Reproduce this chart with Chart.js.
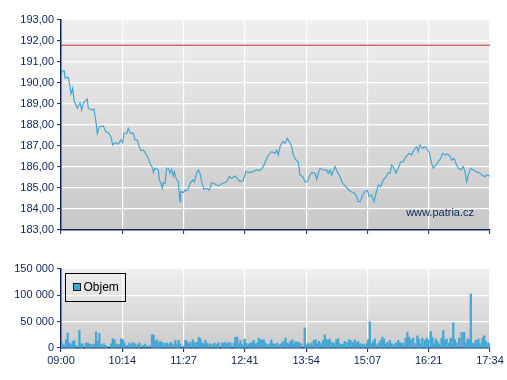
<!DOCTYPE html>
<html>
<head>
<meta charset="utf-8">
<script src="https://cdn.jsdelivr.net/npm/chart.js@4.4.1/dist/chart.umd.min.js"></script>
<style>
  html, body { margin: 0; padding: 0; background: #ffffff; }
  #wrap { position: relative; width: 507px; height: 380px; overflow: hidden; }
  #priceCanvas { position: absolute; left: 0; top: 0; }
  #volCanvas { position: absolute; left: 0; top: 250px; }
</style>
</head>
<body>
<div id="wrap">
  <canvas id="priceCanvas" width="507" height="240"></canvas>
  <canvas id="volCanvas" width="507" height="130"></canvas>
</div>
<script>
// ---- data (minutes since 09:00) ----
const sessionMinutes = 514;
const xTickLabels = ['09:00','10:14','11:27','12:41','13:54','15:07','16:21','17:34'];
const prevClose = 191.80;
const priceMin = 183, priceMax = 193;
const volumeTickValues = [0, 50000, 100000, 150000];
const volumeLabel = 'Objem';
const watermark = 'www.patria.cz';

const priceTimes = [0,1.6,4.0,4.8,8.7,10.8,12.0,14.0,15.6,19.5,
22.8,24.8,26.7,31.5,32.7,36.8,39.5,41.9,43.5,45.9,
50.7,53.9,56.7,59.9,61.9,64.7,68.7,71.5,73.9,75.5,
78.7,80.6,83.5,86.6,88.7,91.4,93.8,95.5,98.6,101.5,
104.6,107.5,109.9,110.6,112.6,116.6,117.8,119.5,121.4,122.6,
124.6,126.6,128.6,130.6,132.6,134.5,135.7,137.8,140.5,141.7,
142.6,143.4,146.5,148.6,150.6,152.5,154.6,157.8,159.7,162.6,
164.5,166.5,168.6,171.3,174.6,177.7,180.6,184.5,188.5,192.5,
198.5,201.6,204.5,208.5,211.2,214.5,218.4,221.6,225.6,230.4,
234.5,238.4,242.4,245.6,248.4,252.4,256.4,258.4,260.3,262.4,
265.6,268.4,271.1,273.5,276.4,278.3,281.6,284.3,286.3,289.6,
292.3,295.1,298.3,300.4,304.3,306.4,308.3,310.3,314.3,318.3,
320.2,322.3,324.3,328.3,331.0,334.3,337.5,341.5,344.2,347.1,
350.2,353.4,356.2,358.2,361.5,364.2,367.0,369.4,372.3,375.0,
377.4,380.2,383.0,386.1,389.4,392.1,394.2,396.2,399.0,401.4,
404.1,406.9,410.1,413.3,417.3,420.2,422.9,426.2,428.1,430.1,
433.4,436.1,438.1,441.3,444.1,446.1,449.3,452.0,454.9,457.3,
460.1,462.8,466.1,468.1,470.9,473.2,476.0,478.9,482.0,484.0,
486.1,488.0,490.9,494.0,497.2,501.2,504.0,508.0,510.0,514.0];

const priceValues = [190.27,190.57,190.57,190.24,190.27,189.83,189.48,189.75,189.19,188.80,
189.05,188.71,189.05,189.24,188.80,188.71,188.76,188.16,187.60,187.92,
187.95,187.68,187.63,187.44,187.05,187.16,187.10,187.29,187.16,187.60,
187.60,187.84,187.60,187.60,187.29,187.29,186.97,186.78,186.81,186.65,
186.41,186.10,185.94,185.73,185.94,185.86,185.38,185.25,184.98,185.25,
185.22,185.94,185.94,185.70,185.89,185.57,185.78,185.46,185.30,184.75,
184.35,184.83,184.78,184.90,184.87,184.98,185.22,185.38,185.30,185.70,
185.86,185.70,185.30,184.94,184.98,184.90,185.25,185.19,185.10,185.19,
185.30,185.54,185.46,185.57,185.46,185.30,185.38,185.78,185.73,185.78,
185.86,185.83,186.02,186.33,186.57,186.73,186.65,186.81,186.57,186.97,
187.21,187.13,187.37,187.21,186.97,186.57,186.33,186.25,185.62,185.54,
185.30,185.30,185.62,185.73,185.70,185.41,185.70,185.94,185.86,185.86,
185.70,185.86,185.62,186.02,185.78,185.54,185.22,185.06,184.94,184.83,
184.78,184.67,184.35,184.35,184.67,184.83,184.90,184.59,184.67,184.35,
184.75,185.14,185.06,185.38,185.54,185.73,185.70,186.10,185.94,185.70,
185.94,186.25,186.25,186.49,186.65,186.57,186.81,186.97,186.73,187.05,
186.89,186.97,186.89,186.68,186.17,185.94,186.10,186.25,186.41,186.65,
186.57,186.62,186.52,186.33,186.41,186.17,185.94,185.86,186.02,185.78,
185.30,185.62,185.94,185.86,185.78,185.73,185.62,185.54,185.62,185.57];

const volumeTimes = [1,3,6,8,10,12,14,16,18,22,24,26,30,32,34,36,39,42,44,46,48,51,53,55,60,62,64,67,70,72,74,76,79,82,84,86,89,92,94,98,101,105,109,111,113,115,117,119,121,124,127,130,132,135,137,139,141,143,147,149,151,153,155,158,160,163,165,167,169,171,173,175,177,179,182,184,187,189,193,195,197,199,201,203,207,209,211,213,215,217,220,222,225,227,229,231,233,235,237,239,241,243,245,247,250,252,254,256,259,262,264,266,269,271,273,275,277,279,281,283,285,288,292,294,296,298,300,303,305,307,309,311,314,316,318,320,322,325,327,330,332,334,336,338,340,342,345,347,350,352,354,356,358,361,363,366,368,370,372,374,376,378,381,383,385,387,389,391,394,396,399,401,404,406,408,410,413,415,417,419,422,425,427,429,431,433,436,438,440,443,445,447,449,451,453,456,458,460,462,465,467,470,472,474,477,480,483,485,487,489,491,493,495,497,500,502,505,507,509,512,513];

const volumeValues = [9400,6300,15600,28100,9400,6300,12500,14400,5000,33100,8100,7500,9400,9400,7500,6300,7500,30600,12500,27500,6300,8100,5000,3100,8100,17500,15600,7500,6300,17500,15600,9400,5000,9400,6300,10600,8100,6300,9400,5000,7500,4400,25000,25000,12500,15600,9400,12500,10600,9400,9400,8100,10600,6300,14400,6300,14400,7500,3100,14400,12500,8100,10600,15600,10600,10600,20600,17500,9400,8100,14400,9400,6300,8100,6300,9400,7500,10600,9400,9400,10600,6900,10600,9400,9400,20600,20600,8100,14400,6300,16900,8800,7500,9400,10600,14400,8100,9400,18800,14400,15600,15600,9400,6300,8100,15600,8100,7500,9400,6300,8100,12500,18800,9400,8100,12500,15600,8100,12500,10600,10600,8100,38100,6300,9400,6300,9400,14400,15600,8100,12500,9400,14400,25000,16900,14400,16900,10600,9400,15600,17500,8100,6300,7500,12500,10600,15600,14400,10600,15600,10600,12500,8100,7500,6300,8100,15600,50000,8100,12500,16900,6300,9400,14400,20600,16900,7500,10600,14400,8100,6300,9400,14400,10600,8100,9400,18800,29400,20600,15600,18800,8100,23100,16900,8100,18800,14400,18800,15600,31300,20600,8100,16900,12500,8100,18800,33100,14400,16900,9400,18800,48100,15600,9400,18800,29400,29400,9400,16900,15600,102500,9400,8100,14400,16900,8100,18800,23100,12500,9400,8100];

// ---- styling ----
const NAVY = '#0b2459';
const BLUE = '#44a6d4';
const FONT = "'Liberation Sans', Arial, sans-serif";
Chart.defaults.font.family = FONT;
Chart.defaults.font.size = 11;
Chart.defaults.color = NAVY;

function pairs(xs, ys) {
  const n = Math.min(xs.length, ys.length);
  const out = [];
  for (let i = 0; i < n; i++) out.push({ x: xs[i], y: ys[i] });
  return out;
}

function xTicksBuilder(scale) {
  const n = xTickLabels.length;
  scale.ticks = xTickLabels.map((l, i) => ({ value: i * sessionMinutes / (n - 1) }));
}

const gradientBg = (top, bottom) => ({
  id: 'plotBg',
  beforeDraw(chart) {
    const a = chart.chartArea, ctx = chart.ctx;
    const g = ctx.createLinearGradient(0, a.top, 0, a.bottom);
    g.addColorStop(0, top);
    g.addColorStop(1, bottom);
    ctx.save();
    ctx.fillStyle = g;
    ctx.fillRect(a.left, a.top, a.right - a.left, a.bottom - a.top);
    ctx.restore();
  }
});

const watermarkPlugin = {
  id: 'watermark',
  afterDatasetsDraw(chart) {
    const a = chart.chartArea, ctx = chart.ctx;
    ctx.save();
    ctx.font = '11px ' + FONT;
    ctx.fillStyle = NAVY;
    ctx.textAlign = 'right';
    ctx.textBaseline = 'middle';
    ctx.fillText(watermark, a.right - 16, a.bottom - 17);
    ctx.restore();
  }
};

const legendBoxPlugin = {
  id: 'legendBox',
  afterDatasetsDraw(chart) {
    const a = chart.chartArea, ctx = chart.ctx;
    const ds = chart.data.datasets[0];
    const x = a.left + 4.5, y = a.top + 4.5, w = 60, h = 28;
    ctx.save();
    ctx.strokeStyle = '#000000';
    ctx.lineWidth = 1;
    ctx.strokeRect(x, y, w, h);
    ctx.fillStyle = ds.backgroundColor;
    ctx.fillRect(x + 8, y + 10, 7, 7);
    ctx.strokeStyle = '#1a1a1a';
    ctx.strokeRect(x + 8, y + 10, 7, 7);
    ctx.fillStyle = '#000000';
    ctx.font = '12px ' + FONT;
    ctx.textAlign = 'left';
    ctx.textBaseline = 'middle';
    ctx.fillText(ds.label, x + 18, y + 14);
    ctx.restore();
  }
};

// ---- price chart ----
new Chart(document.getElementById('priceCanvas'), {
  type: 'line',
  data: {
    datasets: [
      {
        label: 'Kurz',
        data: pairs(priceTimes, priceValues),
        borderColor: BLUE,
        borderWidth: 1.2,
        pointRadius: 0,
        tension: 0,
        fill: false
      },
      {
        label: 'Předchozí závěr',
        data: [{ x: 0, y: prevClose }, { x: sessionMinutes, y: prevClose }],
        borderColor: '#c0302c',
        borderWidth: 1,
        pointRadius: 0,
        fill: false
      }
    ]
  },
  options: {
    responsive: false,
    animation: false,
    layout: { padding: { left: 0, right: 17, top: 20, bottom: 0 } },
    plugins: { legend: { display: false }, tooltip: { enabled: false } },
    scales: {
      x: {
        type: 'linear',
        min: 0,
        max: sessionMinutes,
        afterBuildTicks: xTicksBuilder,
        afterFit(s) { s.height = 10; },
        ticks: { display: false },
        grid: { color: '#ffffff', lineWidth: 1.2, tickColor: NAVY, tickLength: 4, tickWidth: 1 },
        border: { color: NAVY, width: 1.5 }
      },
      y: {
        min: priceMin,
        max: priceMax,
        afterFit(s) { s.width = 61; },
        ticks: {
          stepSize: 1,
          padding: 3,
          color: NAVY,
          font: { size: 11 },
          callback: v => v.toFixed(2).replace('.', ',')
        },
        grid: { color: '#ffffff', lineWidth: 1.2, tickColor: NAVY, tickLength: 4, tickWidth: 1 },
        border: { color: NAVY, width: 1.5 }
      }
    }
  },
  plugins: [gradientBg('#efefef', '#c8c8c8'), watermarkPlugin]
});

// ---- volume chart ----
new Chart(document.getElementById('volCanvas'), {
  type: 'bar',
  data: {
    datasets: [{
      label: volumeLabel,
      data: pairs(volumeTimes, volumeValues),
      backgroundColor: BLUE,
      borderWidth: 0,
      barThickness: 1.6
    }]
  },
  options: {
    responsive: false,
    animation: false,
    layout: { padding: { left: 0, right: 17, top: 19, bottom: 0 } },
    plugins: { legend: { display: false }, tooltip: { enabled: false } },
    scales: {
      x: {
        type: 'linear',
        min: 0,
        max: sessionMinutes,
        offset: false,
        afterBuildTicks: xTicksBuilder,
        afterFit(s) { s.height = 32; },
        ticks: {
          padding: 2,
          maxRotation: 0,
          autoSkip: false,
          color: NAVY,
          font: { size: 11 },
          callback: (v, i) => xTickLabels[i]
        },
        grid: { color: '#ffffff', lineWidth: 1.2, tickColor: NAVY, tickLength: 4, tickWidth: 1, offset: false },
        border: { color: NAVY, width: 1.5 }
      },
      y: {
        min: volumeTickValues[0],
        max: volumeTickValues[volumeTickValues.length - 1],
        afterFit(s) { s.width = 61; },
        afterBuildTicks(s) { s.ticks = volumeTickValues.map(v => ({ value: v })); },
        ticks: {
          padding: 3,
          color: NAVY,
          font: { size: 11 },
          callback: v => String(v).replace(/\B(?=(\d{3})+(?!\d))/g, ' ')
        },
        grid: { color: '#ffffff', lineWidth: 1.2, tickColor: NAVY, tickLength: 4, tickWidth: 1 },
        border: { color: NAVY, width: 1.5 }
      }
    }
  },
  plugins: [gradientBg('#efefef', '#cbcbcb'), legendBoxPlugin]
});
</script>
</body>
</html>
